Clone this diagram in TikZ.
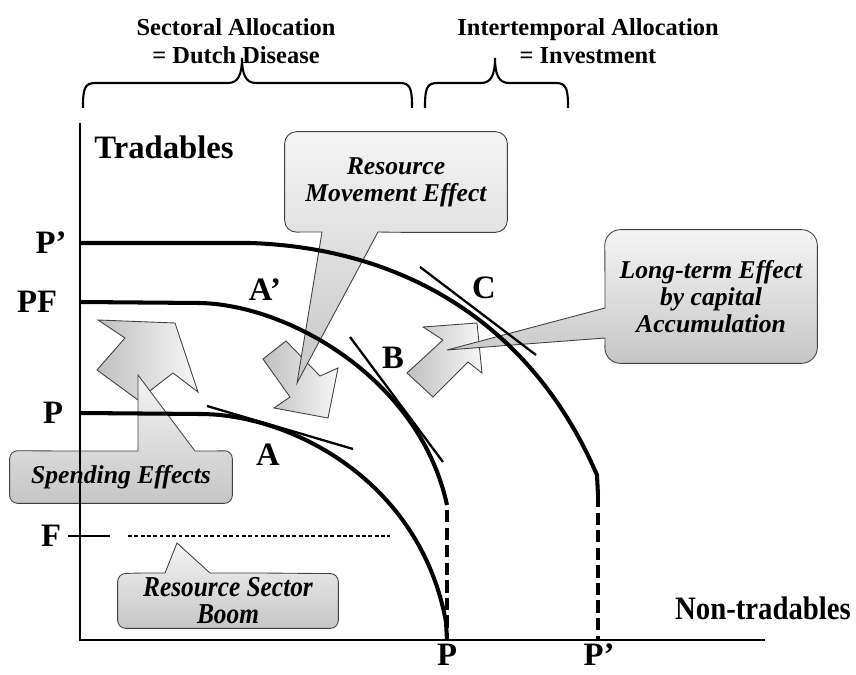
\documentclass[tikz,border=0pt]{standalone}
\usepackage{fontspec}
\setmainfont{Liberation Serif}
\newfontfamily\condserif[FakeStretch=0.88]{Liberation Serif}
\usetikzlibrary{backgrounds}
\newcommand{\lblfont}{\fontsize{18.6}{20}\selectfont\bfseries}
\newcommand{\axisfont}{\condserif\fontsize{18.6}{20}\selectfont\bfseries}
\newcommand{\topfont}{\fontsize{13.9}{16}\selectfont\bfseries}
\newcommand{\callfont}{\fontsize{14.6}{15.3}\selectfont\bfseries\itshape}
\newcommand{\boomfont}{\condserif\fontsize{16.4}{15.3}\selectfont\bfseries\itshape}
\tikzstyle{lbl} = [font=\lblfont, inner sep=0pt]
\tikzstyle{toplbl} = [font=\topfont, align=center, inner sep=0pt]
\tikzstyle{calltext} = [font=\callfont, align=center, inner sep=0pt]
\tikzstyle{calloutshape} = [draw=black!75, line width=0.5pt, top color=gray!8, bottom color=gray!45]
\tikzstyle{blockarrow} = [draw=black!75, line width=0.5pt, left color=gray!50, right color=gray!6]
\tikzstyle{ppf} = [line width=2.3pt]
\tikzstyle{ppfdash} = [line width=2.3pt, dash pattern=on 7pt off 3pt]
\tikzstyle{tangent} = [line width=1.3pt]
\tikzstyle{axisline} = [line width=1.2pt]
\tikzstyle{boomline} = [line width=0.8pt, dash pattern=on 2.2pt off 1.4pt]
\tikzstyle{bracket} = [line width=1.2pt]

\begin{document}
\begin{tikzpicture}[x=0.02cm, y=-0.02cm]
        \useasboundingbox (0,0) rectangle (856,675);

        \node (sect) [toplbl] at (236,41) {Sectoral Allocation\\= Dutch Disease};
        \node (inter) [toplbl] at (588,41) {Intertemporal Allocation\\= Investment};

        \draw[bracket] (83,108) .. controls (83,90) and (84,83) .. (95,83) -- (228,83) .. controls (238,83) and (242,75) .. (242,58) .. controls (242,75) and (246,83) .. (256,83) -- (400,83) .. controls (411,83) and (412,90) .. (412,108);
        \draw[bracket] (425,108) .. controls (425,90) and (426,83) .. (437,83) -- (481,83) .. controls (491,83) and (495,75) .. (495,58) .. controls (495,75) and (499,83) .. (509,83) -- (556,83) .. controls (567,83) and (568,90) .. (568,108);

        \node (rmbox) [calltext, minimum width=4.44cm, minimum height=2cm] at (396,182) {Resource\\Movement Effect};
        \node (ltbox) [calltext, minimum width=4.24cm, minimum height=2.66cm] at (711,296.5) {Long-term Effect\\by capital\\Accumulation};
        \node (spbox) [calltext, minimum width=4.44cm, minimum height=1.04cm] at (121,477) {Spending Effects};
        \node (rsbox) [calltext, font=\boomfont, minimum width=4.4cm, minimum height=1.08cm] at (228,601) {Resource Sector\\Boom};

        \begin{pgfonlayer}{background}
        \shade[blockarrow] (97,370) -- (125,338) -- (98,320) -- (175,323) -- (198,392) -- (173,373) -- (138,400) -- cycle;
        \shade[blockarrow] (263,359) -- (286,341) -- (320,376) -- (338,368) -- (328,418) -- (274,408) -- (290,397) -- cycle;
        \shade[blockarrow] (407,373) -- (443,340) -- (423,327) -- (477,323) -- (482,373) -- (468,362) -- (433,397) -- cycle;

        \shade[calloutshape] (rmbox.north) [rounded corners=6.8pt] -- (rmbox.north east) -- (rmbox.south east) -- (rmbox.south) [sharp corners] -- (378,232) -- (297,383) -- (322,232) -- (303,232) [rounded corners=6.8pt] -- (rmbox.south west) -- (rmbox.north west) -- cycle;
        \shade[calloutshape] (ltbox.east) [rounded corners=9pt] -- (ltbox.north east) -- (ltbox.north west) -- (605,280) [sharp corners] -- (605,308) -- (447,350) -- (605,338) -- (605,341) [rounded corners=9pt] -- (ltbox.south west) -- (ltbox.south east) -- cycle;
        \shade[calloutshape] (spbox.east) [rounded corners=4.5pt] -- (spbox.south east) -- (spbox.south west) -- (spbox.north west) -- (60,451) [sharp corners] -- (138,451) -- (138,375) -- (195,451) -- (215,451) [rounded corners=4.5pt] -- (spbox.north east) -- cycle;
        \shade[calloutshape] (rsbox.east) [rounded corners=4.5pt] -- (rsbox.south east) -- (rsbox.south west) -- (rsbox.north west) -- (140,573) [sharp corners] -- (165,573) -- (177,543) -- (210,573) -- (260,573) [rounded corners=4.5pt] -- (rsbox.north east) -- cycle;
        \end{pgfonlayer}

        \draw[ppf] (80,243) -- (250,243) .. controls (400,248) and (530,320) .. (597,475) -- (598,495);
        \draw[ppfdash] (598,495) -- (598,640);
        \draw[ppf] (80,302) -- (200,303) .. controls (290,305) and (420,380) .. (447,505);
        \draw[ppfdash] (447,510) -- (447,640);
        \draw[ppf] (80,413) -- (200,414) .. controls (290,414) and (420,480) .. (446,622) -- (447,640);

        \draw[tangent] (207,406) -- (353,449);
        \draw[tangent] (350,337) -- (443,462);
        \draw[tangent] (420,267) -- (536,355);

        \draw[line width=1.4pt] (68,536) -- (110,536);
        \draw[boomline] (128,536) -- (390,536);

        \draw[axisline] (80,123) -- (80,640) -- (765,640);

        \node (trad) [lbl] at (164,147) {Tradables};
        \node (nontrad) [lbl, font=\axisfont] at (763,608) {Non-tradables};
        \node (yPp) [lbl] at (51,243) {P’};
        \node (yPF) [lbl] at (37,302) {PF};
        \node (yP) [lbl] at (53,413) {P};
        \node (yF) [lbl] at (51,536) {F};
        \node (xP) [lbl] at (447,655) {P};
        \node (xPp) [lbl] at (599,655) {P’};
        \node (ptA) [lbl] at (268,455) {A};
        \node (ptAp) [lbl] at (265,290) {A’};
        \node (ptB) [lbl] at (393,358) {B};
        \node (ptC) [lbl] at (484,288) {C};

    \end{tikzpicture}
\end{document}
